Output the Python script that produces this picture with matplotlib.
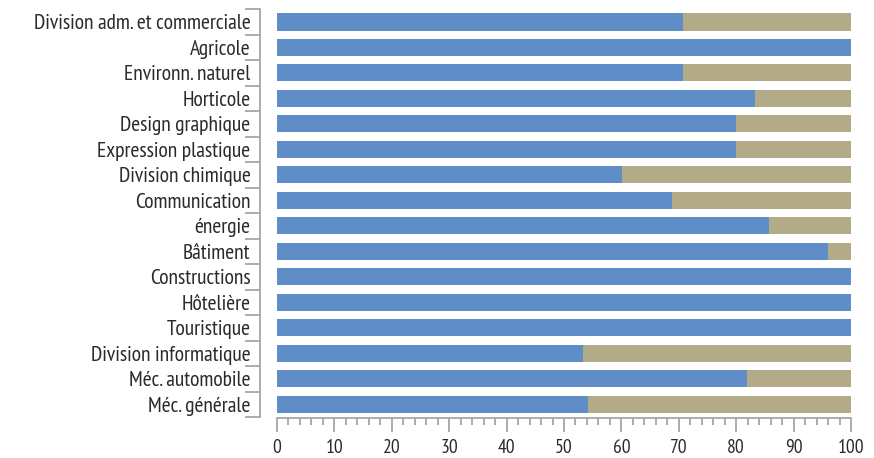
import matplotlib
matplotlib.use("Agg")
import matplotlib.pyplot as plt
import numpy as np

categories = ["Division adm. et commerciale", "Agricole", "Environn. naturel", "Horticole",
              "Design graphique", "Expression plastique", "Division chimique", "Communication",
              "énergie", "Bâtiment", "Constructions", "Hôtelière", "Touristique",
              "Division informatique", "Méc. automobile", "Méc. générale"]
blue_vals = [70.7, 100, 70.7, 83.3, 80.0, 80.0, 60.1, 68.8, 85.7, 96.0, 100, 100, 100, 53.3, 81.8, 54.2]
tan_vals = [100 - v for v in blue_vals]
xticks = list(range(0, 101, 10))

plt.rcParams['font.family'] = ['PT Sans Narrow', 'DejaVu Sans']

W, H = 874, 458
fig = plt.figure(figsize=(W / 100, H / 100), dpi=100)
ax = fig.add_axes([277 / W, 1 - 417 / H, (851 - 277) / W, (417 - 9.25) / H])

y = np.arange(len(categories))
blue = "#5f8dc7"
tan = "#b3ab88"
ax.barh(y, blue_vals, height=0.67, color=blue, linewidth=0)
ax.barh(y, tan_vals, left=blue_vals, height=0.67, color=tan, linewidth=0)

ax.set_xlim(0, 100)
ax.set_ylim(len(categories) - 0.5, -0.5)

for s in ["top", "right"]:
    ax.spines[s].set_visible(False)
axis_col = "#a6a6a6"
ax.spines["left"].set_position(("outward", 12))
ax.spines["left"].set_color(axis_col)
ax.spines["left"].set_linewidth(1.3)
ax.spines["bottom"].set_position(("outward", 1))
ax.spines["bottom"].set_color(axis_col)
ax.spines["bottom"].set_linewidth(1.3)

# y: boundaries as major ticks, labels at minor ticks
ax.set_yticks(np.arange(-0.5, len(categories) + 0.5, 1))
ax.set_yticklabels([])
ax.set_yticks(y, minor=True)
ax.set_yticklabels(categories, minor=True)
ax.tick_params(axis="y", which="major", length=10.5, width=1.3, color=axis_col)
ax.tick_params(axis="y", which="minor", length=0, pad=7, labelsize=15.5, labelcolor="#2a2a2a")

ax.set_xticks(xticks)
ax.set_xticklabels([str(t) for t in xticks])
ax.set_xticks(np.arange(0, 101, 2), minor=True)
ax.tick_params(axis="x", which="major", length=10, width=1.3, color=axis_col, labelsize=14,
               labelcolor="#2a2a2a", pad=5)
ax.tick_params(axis="x", which="minor", length=5, width=1.3, color=axis_col)

fig.savefig("out.png", dpi=100)
